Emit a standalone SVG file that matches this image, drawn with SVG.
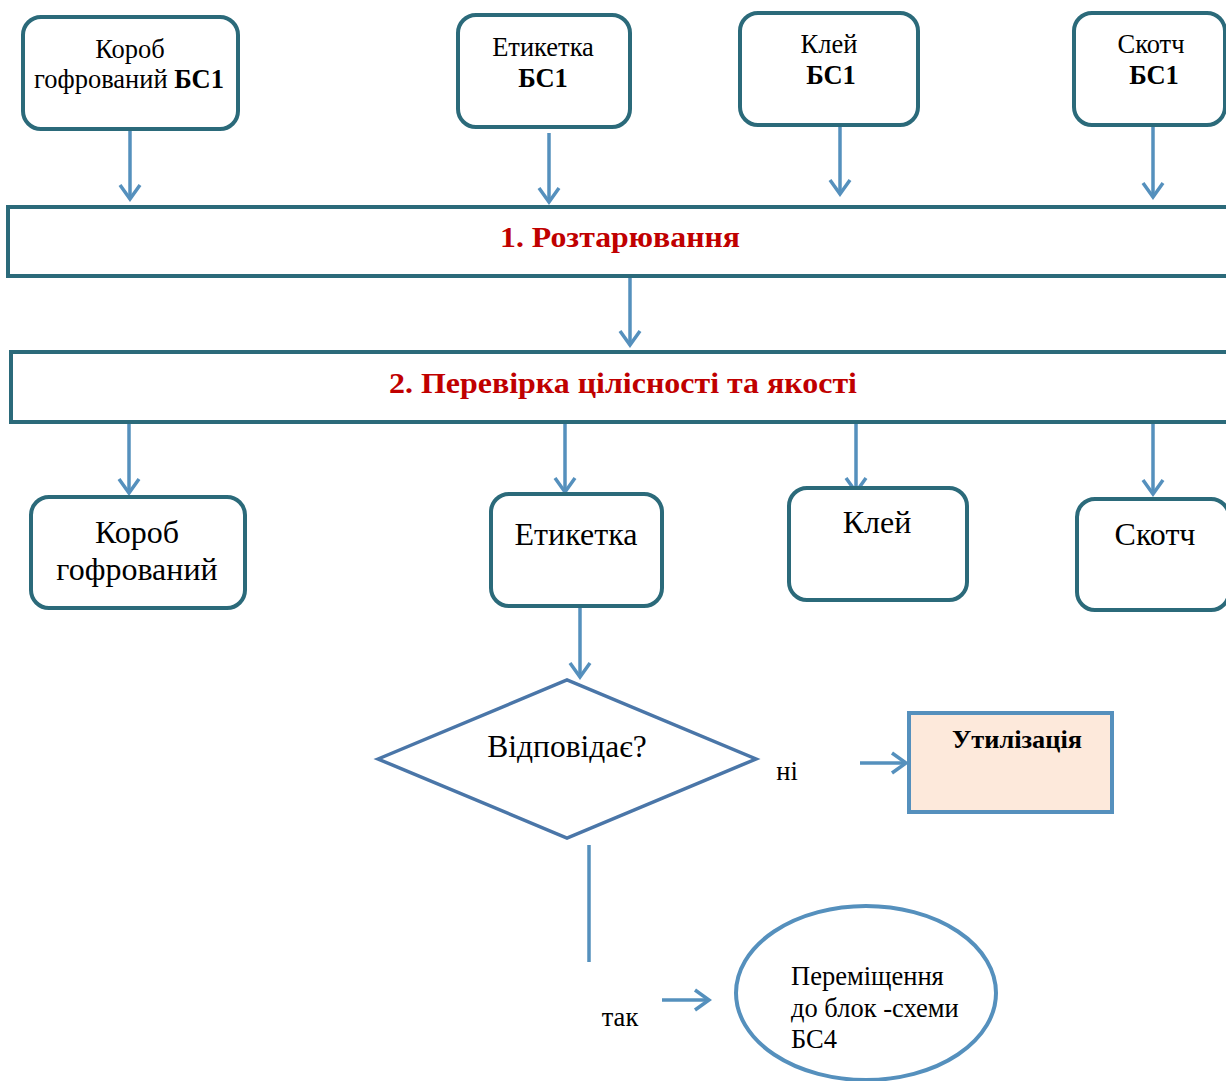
<svg xmlns="http://www.w3.org/2000/svg" width="1226" height="1081" viewBox="0 0 1226 1081">
<style>
.box{fill:#fff;stroke:#2b6a7a;stroke-width:4}
.bar{fill:#fff;stroke:#2b6a7a;stroke-width:4}
.t{font-family:"Liberation Serif","Times New Roman",serif;fill:#000;text-anchor:middle}
.s24{font-size:26.5px}
.s30{font-size:32px}
.b{font-weight:bold}
.red{fill:#c00000;font-weight:bold;font-size:29px}
.arr{stroke:#5590bd;stroke-width:3.5;fill:none}
</style>
<defs>
<marker id="ah" markerUnits="userSpaceOnUse" markerWidth="20" markerHeight="26" viewBox="0 0 20 26" refX="17" refY="13" orient="auto">
<path d="M3,3 L17,13 L3,23" fill="none" stroke="#5590bd" stroke-width="3.5"/>
</marker>
</defs>
<rect width="1226" height="1081" fill="#fff"/>

<g id="connectors">
<line class="arr" x1="130" y1="130" x2="130" y2="199" marker-end="url(#ah)"/>
<line class="arr" x1="549" y1="133" x2="549" y2="202" marker-end="url(#ah)"/>
<line class="arr" x1="840" y1="125" x2="840" y2="194" marker-end="url(#ah)"/>
<line class="arr" x1="1153" y1="125" x2="1153" y2="197" marker-end="url(#ah)"/>
<line class="arr" x1="630" y1="277" x2="630" y2="345" marker-end="url(#ah)"/>
<line class="arr" x1="129" y1="423" x2="129" y2="493" marker-end="url(#ah)"/>
<line class="arr" x1="565" y1="423" x2="565" y2="492" marker-end="url(#ah)"/>
<line class="arr" x1="856" y1="423" x2="856" y2="492" marker-end="url(#ah)"/>
<line class="arr" x1="1153" y1="423" x2="1153" y2="494" marker-end="url(#ah)"/>
<line class="arr" x1="580" y1="607" x2="580" y2="677" marker-end="url(#ah)"/>
<line class="arr" x1="860" y1="763" x2="906" y2="763" marker-end="url(#ah)"/>
<line class="arr" x1="589" y1="845" x2="589" y2="962"/>
<line class="arr" x1="662" y1="1000" x2="709" y2="1000" marker-end="url(#ah)"/>
</g>

<g id="n-korob-top">
<rect class="box" x="23" y="17" width="215" height="112" rx="18"/>
<text class="t s24" x="130" y="58">Короб</text>
<text class="t s24" x="129" y="88">гофрований <tspan class="b">БС1</tspan></text>
</g>
<g id="n-etyketka-top">
<rect class="box" x="458" y="15" width="172" height="112" rx="18"/>
<text class="t s24" x="543" y="56">Етикетка</text>
<text class="t s24 b" x="543" y="87">БС1</text>
</g>
<g id="n-klei-top">
<rect class="box" x="740" y="13" width="178" height="112" rx="18"/>
<text class="t s24" x="829" y="53">Клей</text>
<text class="t s24 b" x="831" y="84">БС1</text>
</g>
<g id="n-skotch-top">
<rect class="box" x="1074" y="13" width="151" height="112" rx="18"/>
<text class="t s24" x="1151" y="53">Скотч</text>
<text class="t s24 b" x="1154" y="84">БС1</text>
</g>

<g id="n-roztaruvannia">
<rect class="bar" x="8" y="207" width="1222" height="69"/>
<text class="t red" x="620" y="247" textLength="240" lengthAdjust="spacingAndGlyphs">1. Розтарювання</text>
</g>
<g id="n-perevirka">
<rect class="bar" x="11" y="352" width="1219" height="70"/>
<text class="t red" x="623" y="393" textLength="468" lengthAdjust="spacingAndGlyphs">2. Перевірка цілісності та якості</text>
</g>

<g id="n-korob">
<rect class="box" x="31" y="497" width="214" height="111" rx="18"/>
<text class="t s30" x="137" y="543">Короб</text>
<text class="t s30" x="137" y="580">гофрований</text>
</g>
<g id="n-etyketka">
<rect class="box" x="491" y="494" width="171" height="112" rx="18"/>
<text class="t s30" x="576" y="545">Етикетка</text>
</g>
<g id="n-klei">
<rect class="box" x="789" y="488" width="178" height="112" rx="18"/>
<text class="t s30" x="877" y="533">Клей</text>
</g>
<g id="n-skotch">
<rect class="box" x="1077" y="499" width="152" height="111" rx="18"/>
<text class="t s30" x="1155" y="545">Скотч</text>
</g>

<g id="n-vidpovidaie">
<polygon points="378,759 567,680 756,759 567,838" fill="#fff" stroke="#4a76a8" stroke-width="3.5"/>
<text class="t" style="font-size:31.5px" x="567" y="757">Відповідає?</text>
</g>
<text class="t s24" x="787" y="780">ні</text>
<text class="t s24" x="620" y="1026">так</text>

<g id="n-utylizatsiia">
<rect x="909" y="713" width="203" height="99" fill="#fde9db" stroke="#5590bd" stroke-width="4"/>
<text class="t b" style="font-size:25px" x="1017" y="748" textLength="130" lengthAdjust="spacingAndGlyphs">Утилізація</text>
</g>

<g id="n-peremishchennia">
<ellipse cx="866" cy="993" rx="130" ry="87" fill="#fff" stroke="#5590bd" stroke-width="4"/>
<text class="t s24" style="text-anchor:start" x="791" y="985">Переміщення</text>
<text class="t s24" style="text-anchor:start" x="791" y="1017">до блок -схеми</text>
<text class="t s24" style="text-anchor:start" x="791" y="1048">БС4</text>
</g>
</svg>
